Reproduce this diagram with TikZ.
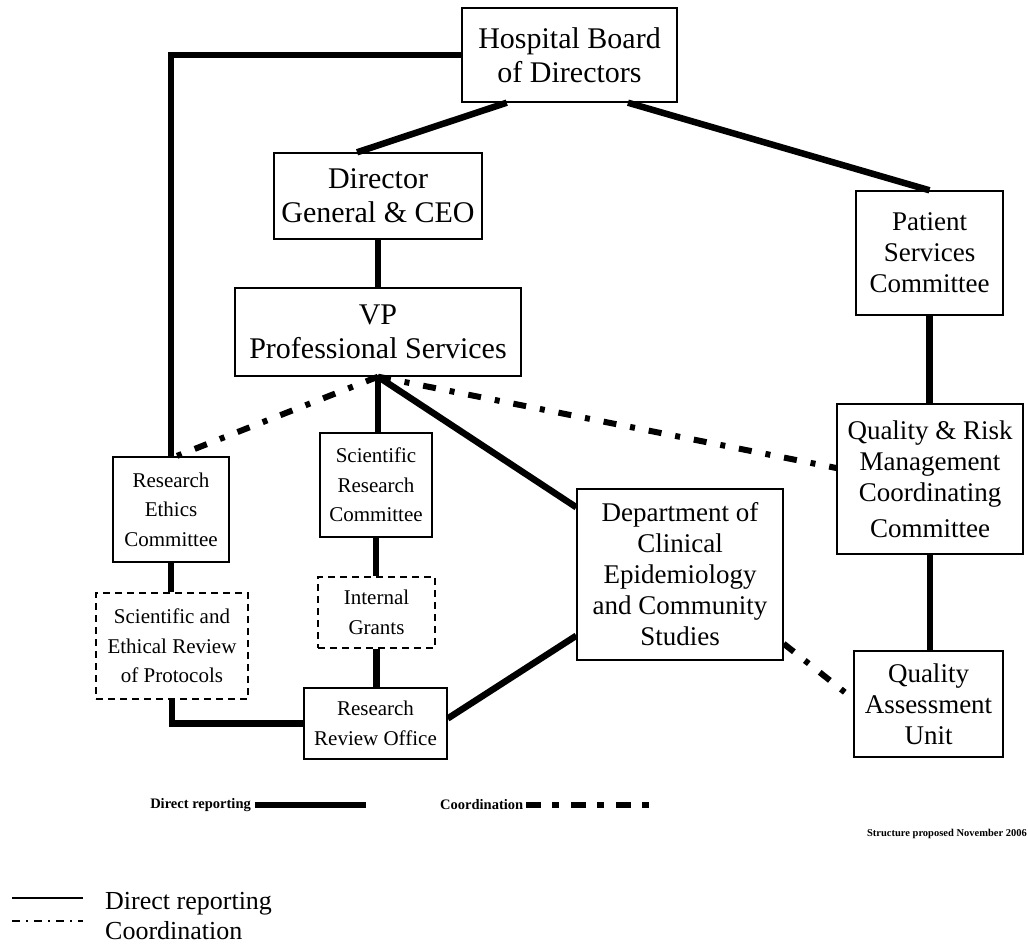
\documentclass[tikz,border=0pt]{standalone}
\usepackage{fontspec}
\setmainfont{Liberation Serif}
\usetikzlibrary{calc}

\begin{document}
\begin{tikzpicture}[x=1pt, y=-1pt,
  unit/.style={draw, line width=1.4pt, inner sep=0pt, align=center},
  topbox/.style={unit, font=\fontsize{30}{34}\selectfont},
  midbox/.style={unit, font=\fontsize{27}{31}\selectfont},
  subbox/.style={unit, font=\fontsize{21}{29.5}\selectfont},
  pending/.style={dash pattern=on 7pt off 5pt},
  report/.style={line width=6.5pt},
  coord/.style={line width=6pt, dash pattern=on 13pt off 14pt on 5pt off 14pt},
  keytext/.style={inner sep=0pt, font=\fontsize{26}{30}\selectfont}
]
  \useasboundingbox (0,0) rectangle (1028,944);

  % Top of the structure
  \node[topbox, minimum width=215pt, minimum height=94pt] (board) at (569.5,55) {Hospital Board\\of Directors};
  \node[topbox, minimum width=208pt, minimum height=86pt] (ceo) at (378,196) {Director\\General \& CEO};
  \node[topbox, minimum width=286pt, minimum height=88pt] (vp) at (378,332) {VP\\Professional Services};

  % Right branch
  \node[midbox, minimum width=147pt, minimum height=124pt] (psc) at (929.5,253) {Patient\\Services\\Committee};
  \node[midbox, minimum width=186pt, minimum height=150pt] (qrm) at (930,479) {Quality \& Risk\\Management\\Coordinating\\[5pt]Committee};
  \node[midbox, minimum width=149pt, minimum height=106pt] (qau) at (928.5,704) {Quality\\Assessment\\Unit};
  \node[midbox, minimum width=206pt, minimum height=171pt] (dces) at (680,574.5) {Department of\\Clinical\\Epidemiology\\and Community\\Studies};

  % Research branch
  \node[subbox, minimum width=116pt, minimum height=105pt] (rec) at (171,509.5) {Research\\Ethics\\Committee};
  \node[subbox, minimum width=112pt, minimum height=104pt] (src) at (376,485) {Scientific\\Research\\Committee};
  \node[subbox, pending, minimum width=117pt, minimum height=71pt] (grants) at (376.5,612.5) {Internal\\Grants};
  \node[subbox, pending, minimum width=152pt, minimum height=106pt] (review) at (172,646) {Scientific and\\Ethical Review\\of Protocols};
  \node[subbox, minimum width=143pt, minimum height=71pt] (rro) at (375.5,723.5) {Research\\Review Office};

  % Direct reporting
  \draw[report] ($(board.south west)!0.21!(board.south east)$) -- ($(ceo.north west)!0.4!(ceo.north east)$);
  \draw[report] ($(board.south west)!0.77!(board.south east)$) -- (psc.north);
  \draw[report] (board.west) -| (rec.north);
  \draw[report] (ceo.south) -- (ceo.south |- vp.north);
  \draw[report] (vp.south) -- (vp.south |- src.north);
  \draw[report] (vp.south) -- ($(dces.north west)+(0,19)$);
  \draw[report] (src.south) -- (src.south |- grants.north);
  \draw[report] (grants.south) -- (grants.south |- rro.north);
  \draw[report] (rec.south) -- (rec.south |- review.north);
  \draw[report] (review.south) |- (rro.west);
  \draw[report] ($(rro.east)+(0,-5)$) -- ($(dces.south west)+(0,-25)$);
  \draw[report] (psc.south) -- (psc.south |- qrm.north);
  \draw[report] (qrm.south) -- (qrm.south |- qau.north);

  % Coordination
  \draw[coord] (vp.south) -- ($(rec.north)+(5,0)$);
  \draw[coord] (vp.south) -- ($(qrm.west)+(0,-11)$);
  \draw[coord] ($(dces.south east)+(0,-17)$) -- ($(qau.west)+(0,-5)$);

  % Legend on the chart
  \node[inner sep=0pt, font=\bfseries\fontsize{14.5}{16}\selectfont, anchor=east] (chartdirect) at (251,805) {Direct reporting};
  \coordinate (chartdirectend) at (366,805);
  \draw[line width=6.5pt] ($(chartdirect.east)+(4,0)$) -- (chartdirectend);
  \node[inner sep=0pt, font=\bfseries\fontsize{14.5}{16}\selectfont, anchor=west] (chartcoord) at (440,805) {Coordination};
  \coordinate (chartcoordend) at (652,805);
  \draw[line width=6.5pt, dash pattern=on 15pt off 11pt on 7pt off 12pt] ($(chartcoord.east)+(3,0)$) -- (chartcoordend);
  \node[inner sep=0pt, font=\bfseries\fontsize{10.5}{12}\selectfont, anchor=east] (stamp) at (1027,834) {Structure proposed November 2006};

  % Key
  \node[keytext, anchor=base west] (keydirect) at (105,909) {Direct reporting};
  \node[keytext, anchor=base west] (keycoord) at (105,939) {Coordination};
  \coordinate (keydirectstart) at (12,898);
  \coordinate (keycoordstart) at (12,921);
  \draw[line width=1.8pt] (keydirectstart) -- ++(71,0);
  \draw[line width=1.6pt, dash pattern=on 8pt off 6pt on 2pt off 6pt] (keycoordstart) -- ++(71,0);
\end{tikzpicture}
\end{document}
